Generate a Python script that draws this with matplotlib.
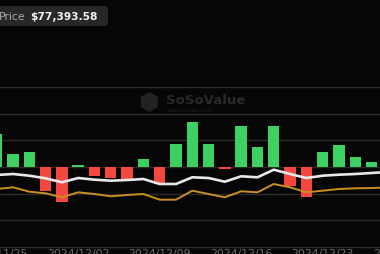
import matplotlib.pyplot as plt
from matplotlib.patches import FancyBboxPatch

# daily net flow (bars), in US$ million
flows = [124, 49, 57, -89, -132, 7, -33, -42, -52, 30, -64, 86,
         167, 86, -8, 152, 76, 152, -71, -112, 57, 84, 39, 20]
# two line series on the right-hand scale
total_assets = [72, 73, 71.3, 68.7, 64.7, 69, 67.3, 66.3, 67, 68, 63, 63, 69.7,
                69, 65.3, 70.7, 69.7, 77.3, 73, 69, 71.3, 72.3, 73, 74, 75]
btc_price = [58, 59.7, 55.3, 53.7, 49.7, 54.7, 53, 50.7, 52, 53, 47.3, 47.3, 56.3,
             53, 49.7, 55.7, 54.7, 63, 59.7, 54.7, 56.3, 58, 58.7, 59, 59.5]
date_pos = [0, 5, 10, 15, 20, 25]
date_labels = ["2024/11/25", "2024/12/02", "2024/12/09", "2024/12/16",
               "2024/12/23", "2024/12/30"]

BG = "#060606"
GREEN = "#3dd163"
RED = "#f4473f"
GRID = "#2b2b2b"

fig = plt.figure(figsize=(3.8, 2.55), dpi=100, facecolor=BG)
# axes spans y pixels 88..248 (values 300..-300)
ax = fig.add_axes([0, 7 / 255, 1, 160 / 255])
ax.set_facecolor(BG)
ax.set_xlim(0.202, 23.52)
ax.set_ylim(-300, 300)

for v in range(-300, 301, 100):
    ax.axhline(v, color=GRID, lw=1, zorder=0, clip_on=False)

colors = [GREEN if v >= 0 else RED for v in flows]
ax.bar(range(len(flows)), flows, width=0.7, color=colors, zorder=2)

ax2 = ax.twinx()
ax2.set_ylim(0, 160)
ax2.plot(range(len(total_assets)), total_assets, color="#e8e8e8", lw=1.9, zorder=3)
ax2.plot(range(len(btc_price)), btc_price, color="#c98f22", lw=1.4, zorder=3)

for a in (ax, ax2):
    a.set_xticks([])
    a.set_yticks([])
    for s in a.spines.values():
        s.set_visible(False)

for p, lab in zip(date_pos, date_labels):
    ax.text(p, -303, lab, transform=ax.transData, ha="center", va="top",
            fontsize=7.8, color="#6e6e6e", clip_on=False)

# watermark
fig.text(149 / 380, 1 - 104 / 255, "\u2b22", fontsize=17, color="#222222",
         ha="center", va="center")
fig.text(166 / 380, 1 - 101 / 255, "SoSoValue", fontsize=9.5, fontweight="bold",
         color="#2a2a2a", ha="left", va="center")
fig.text(167 / 380, 1 - 111 / 255, "sosovalue.com", fontsize=4.5,
         color="#222222", ha="left", va="center")

# price tag
box = FancyBboxPatch((-10 / 380, 1 - 27 / 255), 118 / 380, 20 / 255,
                     boxstyle="round,pad=0,rounding_size=0.012",
                     transform=fig.transFigure, facecolor="#282828",
                     edgecolor="none")
fig.patches.append(box)
fig.text(26 / 380, 1 - 17 / 255, "Price", fontsize=7.8, color="#a8a8a8",
         ha="right", va="center")
fig.text(30 / 380, 1 - 17 / 255, "$77,393.58", fontsize=7.7, fontweight="bold",
         color="#f2f2f2", ha="left", va="center")

fig.savefig("out.png", dpi=100, facecolor=BG)
